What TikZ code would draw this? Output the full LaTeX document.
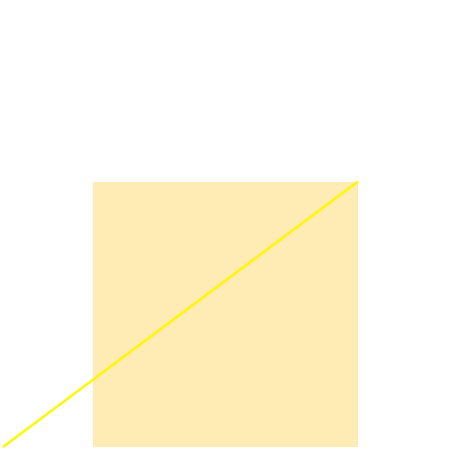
\documentclass[tikz,border=0pt]{standalone}
\definecolor{sqfill}{HTML}{FEECB4}
\definecolor{lineyellow}{HTML}{FFF800}
\begin{document}
\begin{tikzpicture}[x=1pt,y=-1pt]
\useasboundingbox (0,0) rectangle (451,473);
\fill[sqfill] (93,182) rectangle (358,446.5);
\coordinate (a) at (3,447);
\coordinate (b) at (358,181.5);
\draw[lineyellow, line width=2.3pt] (a) -- (b);
\end{tikzpicture}
\end{document}
